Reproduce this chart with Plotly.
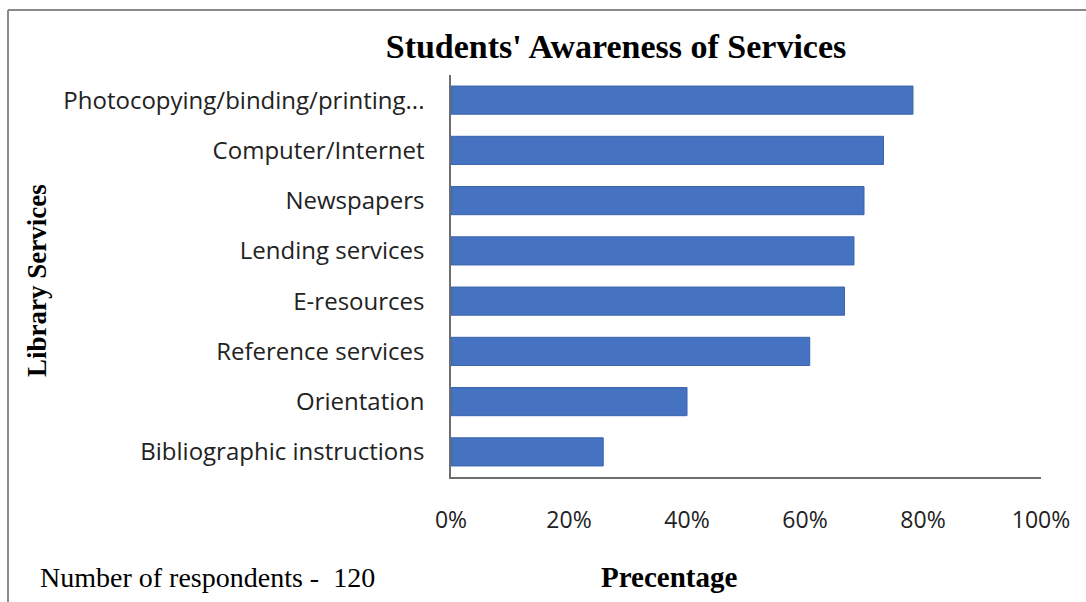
import plotly.graph_objects as go

# Library services, listed top to bottom
services = [
    "Photocopying/binding/printing...",
    "Computer/Internet",
    "Newspapers",
    "Lending services",
    "E-resources",
    "Reference services",
    "Orientation",
    "Bibliographic instructions",
]
# Share of students aware of each service (fraction of 120 respondents)
awareness = [0.783, 0.733, 0.700, 0.683, 0.667, 0.608, 0.400, 0.258]

x_ticks = [0, 0.2, 0.4, 0.6, 0.8, 1.0]
x_tick_labels = ["0%", "20%", "40%", "60%", "80%", "100%"]

W, H = 1086, 602
L, R, T, B = 451, 45, 75, 125
pw, ph = W - L - R, H - T - B


def px_x(p):
    return (p - L) / pw


def px_y(p):
    return (H - B - p) / ph


serif = "Liberation Serif"
sans = "Open Sans"

fig = go.Figure(
    go.Bar(
        x=awareness,
        y=services,
        orientation="h",
        marker=dict(color="#4573c1", line=dict(color="#3a63ad", width=1)),
        width=0.56,
    )
)

fig.update_layout(
    width=W,
    height=H,
    margin=dict(l=L, r=R, t=T, b=B, pad=0),
    paper_bgcolor="white",
    plot_bgcolor="white",
    showlegend=False,
    title=dict(
        text="<b>Students' Awareness of Services</b>",
        font=dict(family=serif, size=34, color="black"),
        x=616 / W,
        xanchor="center",
        xref="container",
        y=1 - 46 / H,
        yanchor="middle",
        yref="container",
    ),
    xaxis=dict(
        range=[0, 1],
        tickvals=x_ticks,
        ticktext=x_tick_labels,
        showgrid=False,
        zeroline=False,
        showline=True,
        linecolor="#6e6e6e",
        linewidth=1.5,
        ticks="",
        tickfont=dict(family=sans, size=23, color="#222"),
        ticklabelstandoff=22,
    ),
    yaxis=dict(
        categoryorder="array",
        categoryarray=services[::-1],
        showgrid=False,
        zeroline=False,
        showline=True,
        linecolor="#6e6e6e",
        linewidth=1.5,
        ticks="",
        tickfont=dict(family=sans, size=24, color="#222"),
        ticklabelstandoff=20,
    ),
    annotations=[
        dict(
            text="<b>Library Services</b>",
            textangle=-90,
            xref="paper", yref="paper",
            x=px_x(37), y=px_y(281),
            xanchor="center", yanchor="middle",
            showarrow=False,
            font=dict(family=serif, size=27, color="black"),
        ),
        dict(
            text="<b>Precentage</b>",
            xref="paper", yref="paper",
            x=px_x(669), y=px_y(577),
            xanchor="center", yanchor="middle",
            showarrow=False,
            font=dict(family=serif, size=29, color="black"),
        ),
        dict(
            text="Number of respondents -  120",
            xref="paper", yref="paper",
            x=px_x(38), y=px_y(577),
            xanchor="left", yanchor="middle",
            showarrow=False,
            font=dict(family=serif, size=28, color="black"),
        ),
    ],
    shapes=[
        # outer chart frame (left and top edges)
        dict(type="line", xref="paper", yref="paper",
             x0=px_x(8), x1=px_x(8), y0=px_y(10), y1=px_y(610),
             line=dict(color="#8a8a8a", width=2)),
        dict(type="line", xref="paper", yref="paper",
             x0=px_x(8), x1=px_x(1090), y0=px_y(10), y1=px_y(10),
             line=dict(color="#8a8a8a", width=2)),
    ],
)

fig.write_html("out.html")
